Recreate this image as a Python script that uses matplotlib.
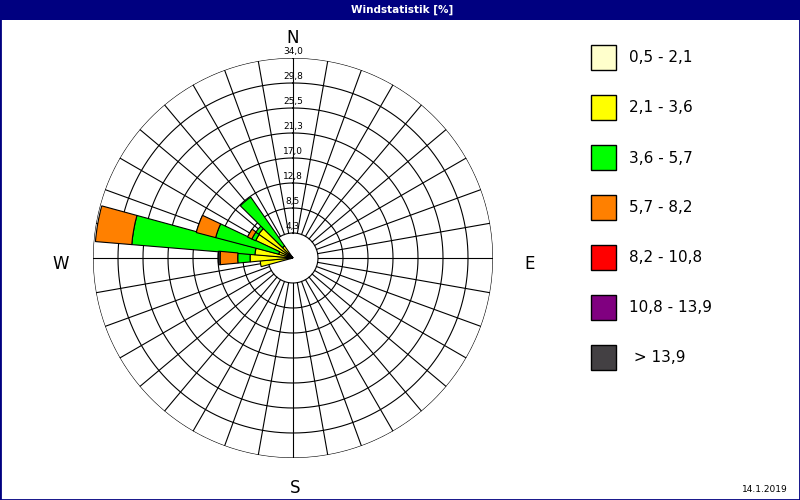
import numpy as np
import matplotlib
matplotlib.use('Agg')
import matplotlib.pyplot as plt
from matplotlib.patches import Rectangle

# wind directions (degrees, 0 = N, clockwise), 10 degree sectors
directions = [260, 270, 280, 290, 300, 310, 320]

# frequency [%] per speed class and direction (stacked outward)
cls_05_21 = [0.5, 0.5, 0.5, 0.5, 0.5, 0.5, 0.5]
cls_21_36 = [5.1, 6.8, 6.0, 2.0, 6.5, 6.6, 2.0]
cls_36_57 = [0.0, 2.1, 21.0, 11.1, 0.7, 0.6, 10.1]
cls_57_82 = [0.0, 3.0, 6.2, 3.4, 0.8, 0.0, 0.0]
cls_82_108 = [0.0, 0.0, 0.0, 0.0, 0.0, 0.0, 0.0]
cls_108_139 = [0.0, 0.0, 0.0, 0.0, 0.0, 0.0, 0.0]
cls_gt_139 = [0.0, 0.3, 0.0, 0.0, 0.0, 0.0, 0.0]

class_labels = ['0,5 - 2,1', '2,1 - 3,6', '3,6 - 5,7', '5,7 - 8,2',
                '8,2 - 10,8', '10,8 - 13,9', ' > 13,9']
class_colors = ['#ffffcc', '#ffff00', '#00ff00', '#ff8000',
                '#ff0000', '#800080', '#434043']

ring_labels = ['4,3', '8,5', '12,8', '17,0', '21,3', '25,5', '29,8', '34,0']
r_max = 34.0


def main():
    fig = plt.figure(figsize=(8, 5), dpi=100)
    fig.patch.set_facecolor('white')

    # polar plot: centre at (293, 258) px, radius 200 px
    ax = fig.add_axes([93 / 800, 42 / 500, 400 / 800, 400 / 500], projection='polar')
    ax.set_theta_zero_location('N')
    ax.set_theta_direction(-1)
    ax.set_ylim(0, r_max)
    ax.axis('off')

    r_step = r_max / len(ring_labels)
    th = np.linspace(0, 2 * np.pi, 721)
    for k in range(1, len(ring_labels) + 1):
        ax.plot(th, np.full_like(th, k * r_step), color='black', lw=0.8, zorder=1)
    for deg in range(0, 360, 10):
        a = np.radians(deg)
        ax.plot([a, a], [r_step, r_max], color='black', lw=0.8, zorder=1)

    series = [cls_05_21, cls_21_36, cls_36_57, cls_57_82,
              cls_82_108, cls_108_139, cls_gt_139]
    theta = np.radians(directions)
    bottom = np.zeros(len(directions))
    for vals, col in zip(series, class_colors):
        vals = np.array(vals)
        m = vals > 0
        if m.any():
            ax.bar(theta[m], vals[m], width=np.radians(10.5), bottom=bottom[m],
                   color=col, edgecolor='black', linewidth=0.8, zorder=3)
        bottom = bottom + vals

    for k, lab in enumerate(ring_labels, start=1):
        ax.text(0, k * r_step + 1.1, lab, ha='center', va='center',
                fontsize=6.5, zorder=4)

    # compass letters
    fig.text(293 / 800, 1 - 38 / 500, 'N', ha='center', va='center', fontsize=12)
    fig.text(61 / 800, 1 - 264 / 500, 'W', ha='center', va='center', fontsize=12)
    fig.text(530 / 800, 1 - 264 / 500, 'E', ha='center', va='center', fontsize=12)
    fig.text(295 / 800, 1 - 488 / 500, 'S', ha='center', va='center', fontsize=12)

    # legend
    for i, (lab, col) in enumerate(zip(class_labels, class_colors)):
        top = 45 + 50 * i
        fig.patches.append(Rectangle((591 / 800, 1 - (top + 25) / 500), 25 / 800, 25 / 500,
                                     transform=fig.transFigure, facecolor=col,
                                     edgecolor='black', lw=1))
        fig.text(629 / 800, 1 - (top + 13) / 500, lab, ha='left', va='center', fontsize=11)

    # title bar and frame
    fig.patches.append(Rectangle((0, 1 - 20 / 500), 1, 20 / 500, transform=fig.transFigure,
                                 facecolor='#000080', edgecolor='none'))
    fig.text(402 / 800, 1 - 10 / 500, 'Windstatistik [%]', ha='center', va='center',
             color='white', fontsize=7.5, fontweight='bold')
    fig.patches.append(Rectangle((0, 0), 1, 1, transform=fig.transFigure, fill=False,
                                 edgecolor='#000080', lw=2))

    fig.text(765 / 800, 1 - 489 / 500, '14.1.2019', ha='center', va='center', fontsize=6.5)

    fig.savefig('out.png', dpi=100)


if __name__ == '__main__':
    main()
